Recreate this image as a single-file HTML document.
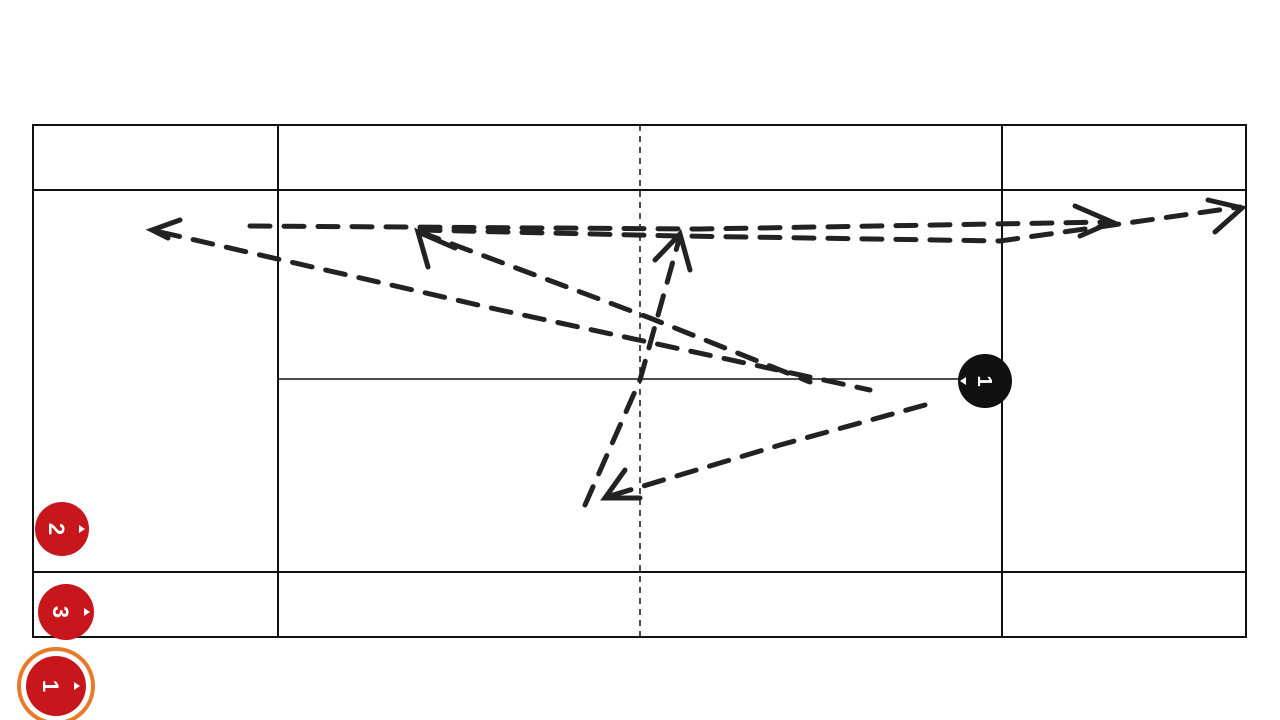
<!DOCTYPE html>
<html><head><meta charset="utf-8"><style>
html,body{margin:0;padding:0;background:#fff;}
svg{display:block;}
text{font-family:"Liberation Sans",sans-serif;font-weight:bold;}
</style></head><body>
<svg width="1280" height="720" viewBox="0 0 1280 720" xmlns="http://www.w3.org/2000/svg">
<rect width="1280" height="720" fill="#fff"/>
<g stroke="#111" stroke-width="2" fill="none">
<rect x="33" y="125" width="1213" height="512"/>
<line x1="33" y1="190" x2="1246" y2="190"/>
<line x1="33" y1="572" x2="1246" y2="572"/>
<line x1="278" y1="125" x2="278" y2="637"/>
<line x1="1002" y1="125" x2="1002" y2="637"/>
<line x1="278" y1="379" x2="985" y2="379" stroke-width="1.5"/>
<line x1="640" y1="125" x2="640" y2="637" stroke-width="1.5" stroke-dasharray="6,5"/>
</g>
<g stroke="#222" stroke-width="5" fill="none" stroke-dasharray="20,14" stroke-linecap="round">
<path d="M250 226 L700 229 L1110 222"/>
<path d="M420 230 L680 236 L1000 241 L1240 207"/>
<path d="M160 232 L500 310 L870 390"/>
<path d="M420 232 L650 318 L810 382"/>
<path d="M925 405 L780 445 L610 496"/>
<path d="M585 505 L640 380 L680 236"/>
</g>
<g stroke="#222" stroke-width="5" fill="none" stroke-linecap="round">
<path d="M1075 206 L1112 222 L1080 236"/>
<path d="M1208 200 L1242 208 L1215 232"/>
<path d="M180 220 L152 230 L168 238"/>
<path d="M428 267 L418 232 L455 248"/>
<path d="M655 260 L680 234 L690 270"/>
<path d="M625 470 L605 498 L640 498"/>
</g>
<circle cx="985" cy="381" r="27" fill="#111"/>
<text x="985" y="388" fill="#fff" font-size="20" text-anchor="middle" transform="rotate(90 985 381)">1</text>
<circle cx="62" cy="529" r="27" fill="#c8161d"/>
<text x="56" y="536" fill="#fff" font-size="22" text-anchor="middle" transform="rotate(90 56 529)">2</text>
<circle cx="66" cy="612" r="28" fill="#c8161d"/>
<text x="60" y="619" fill="#fff" font-size="22" text-anchor="middle" transform="rotate(90 60 612)">3</text>
<circle cx="56" cy="686" r="37" fill="none" stroke="#e87a2a" stroke-width="4"/>
<circle cx="56" cy="686" r="30" fill="#c8161d"/>
<text x="50" y="693" fill="#fff" font-size="22" text-anchor="middle" transform="rotate(90 50 686)">1</text>
<g fill="#fff">
<path d="M79 525 l6 4 l-6 4z"/><path d="M84 608 l6 4 l-6 4z"/><path d="M74 682 l6 4 l-6 4z"/>
<path d="M966 377 l-6 4 l6 4z"/>
</g>
</svg>
</body></html>
